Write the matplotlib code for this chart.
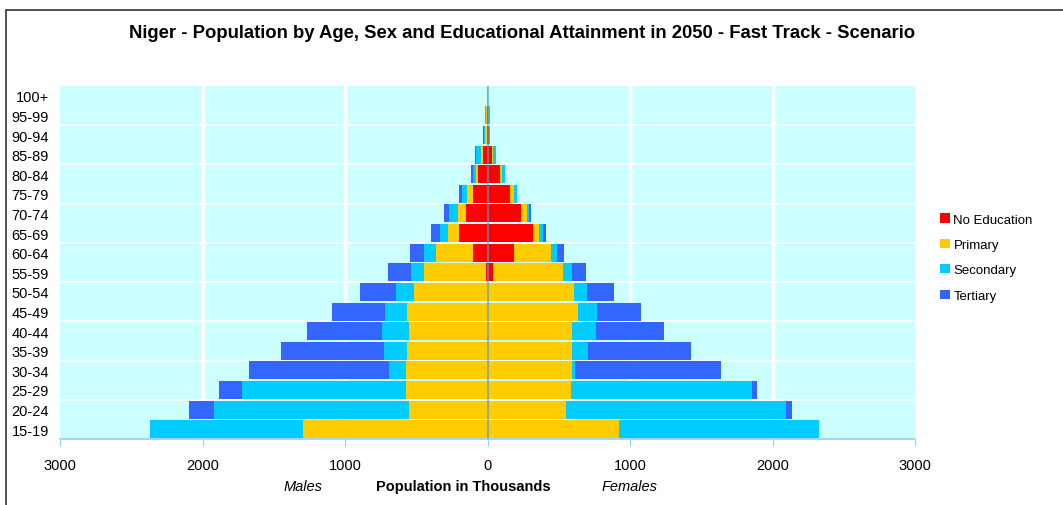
import numpy as np
import matplotlib.pyplot as plt
from matplotlib.patches import Rectangle

plt.rcParams['font.family'] = ['Liberation Sans', 'DejaVu Sans']

ages = ['15-19', '20-24', '25-29', '30-34', '35-39', '40-44', '45-49', '50-54', '55-59',
        '60-64', '65-69', '70-74', '75-79', '80-84', '85-89', '90-94', '95-99', '100+']
levels = ['No Education', 'Primary', 'Secondary', 'Tertiary']
colors = ['#FF0000', '#FFCC00', '#00CCFF', '#3366FF']

# population in thousands, per age group (young to old)
male_noedu = [0, 0, 0, 0, 0, 0, 0, 0, 10, 101, 200, 150, 103, 68, 33, 7, 2, 0]
male_prim = [1295, 553, 574, 574, 567, 553, 567, 518, 434, 259, 76, 56, 42, 14, 14, 9, 10, 1]
male_sec = [1071, 1365, 1148, 119, 161, 189, 154, 126, 91, 84, 57, 63, 35, 21, 35, 9, 3, 1]
male_tert = [0, 175, 161, 980, 721, 525, 371, 252, 161, 98, 63, 35, 21, 14, 4, 5, 0, 0]

fem_noedu = [0, 0, 0, 0, 0, 0, 0, 0, 38, 185, 318, 234, 156, 86, 30, 8, 1, 0]
fem_prim = [924, 553, 588, 595, 595, 595, 637, 609, 490, 259, 42, 42, 28, 14, 9, 2, 2, 0]
fem_sec = [1400, 1540, 1267, 21, 112, 168, 133, 91, 63, 42, 28, 12, 21, 21, 19, 8, 15, 2]
fem_tert = [0, 42, 35, 1022, 721, 476, 308, 189, 98, 49, 22, 16, 3, 3, 0, 2, 0, 0]

male = [male_noedu, male_prim, male_sec, male_tert]
female = [fem_noedu, fem_prim, fem_sec, fem_tert]

fig = plt.figure(figsize=(10.63, 5.06), dpi=100)
ax = fig.add_axes([60/1063, 1 - 440/506, 855/1063, 353/506])
ax.set_facecolor('#CCFFFF')

y = np.arange(len(ages))
left_m = np.zeros(len(ages))
left_f = np.zeros(len(ages))
for lvl, col, m, f in zip(levels, colors, male, female):
    m = np.array(m, dtype=float)
    f = np.array(f, dtype=float)
    ax.barh(y, -m, left=-left_m, height=0.92, color=col, label=lvl, zorder=3)
    ax.barh(y, f, left=left_f, height=0.92, color=col, zorder=3)
    left_m += m
    left_f += f

# gridlines
for xv in [-2000, -1000, 1000, 2000]:
    ax.axvline(xv, color='white', lw=2.5, zorder=1)
for yv in np.arange(1.5, len(ages) - 1, 2):
    ax.axhline(yv, color='white', lw=1.2, zorder=1)
ax.axvline(0, color='#5a9ccc', lw=1.5, alpha=0.65, zorder=4)

ax.set_xlim(-3000, 3000)
ax.set_ylim(-0.5, len(ages) - 0.5)
ax.set_xticks(np.arange(-3000, 3001, 1000))
ax.set_xticklabels([str(abs(v)) for v in range(-3000, 3001, 1000)], fontsize=10.5)
ax.set_yticks(y)
ax.set_yticklabels(ages, fontsize=10.5)
ax.tick_params(axis='y', length=0, pad=8)
ax.tick_params(axis='x', length=5, color='#99CCFF', pad=9)
for s in ['top', 'right', 'left']:
    ax.spines[s].set_visible(False)
ax.spines['bottom'].set_color('#99CCFF')
ax.spines['bottom'].set_linewidth(1.2)

fig.text(522/1063, 1 - 33/506, 'Niger - Population by Age, Sex and Educational Attainment in 2050 - Fast Track - Scenario',
         ha='center', va='center', fontsize=13.3, fontweight='bold')
fig.text(463/1063, 1 - 487/506, 'Population in Thousands', ha='center', va='center',
         fontsize=10.5, fontweight='bold')
fig.text(303/1063, 1 - 487/506, 'Males', ha='center', va='center', fontsize=10.5, style='italic')
fig.text(630/1063, 1 - 487/506, 'Females', ha='center', va='center', fontsize=10.5, style='italic')

leg = ax.legend(loc='upper left', bbox_to_anchor=(935/1063, 1 - 209/506), bbox_transform=fig.transFigure,
                frameon=False, fontsize=9.5, handlelength=0.7, handleheight=0.7, handletextpad=0.3,
                labelspacing=1.0, borderaxespad=0)

fig.patches.append(Rectangle((6/1063, -0.1), 1.5, 1.1 - 11/506, transform=fig.transFigure,
                             fill=False, edgecolor='#333333', lw=1.2))

fig.savefig('out.png', dpi=100)
